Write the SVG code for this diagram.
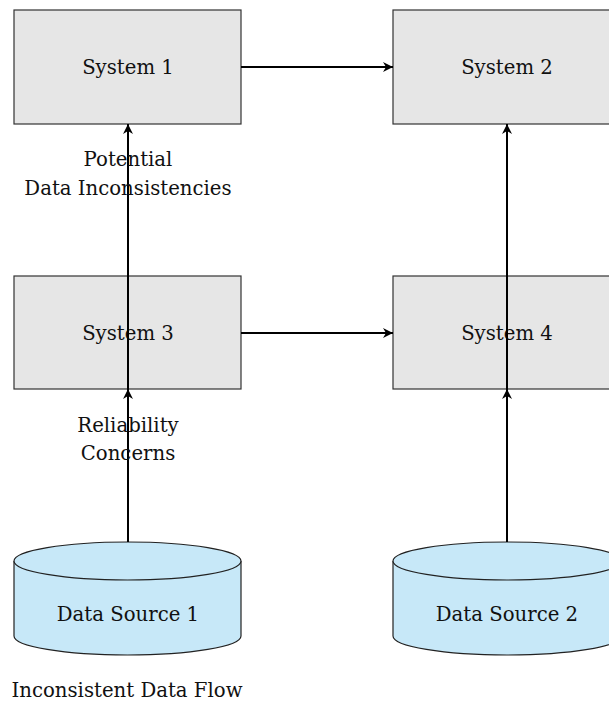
<svg xmlns="http://www.w3.org/2000/svg" width="609" height="702" viewBox="0 0 609 702">
<style>
.box{fill:#e6e6e6;stroke:#333333;stroke-width:1.2}
.cyl{fill:#c7e8f8;stroke:#222222;stroke-width:1.2}
.t{font-family:"DejaVu Serif","Liberation Serif",serif;font-size:19.7px;fill:#111111;text-anchor:middle}
.e{stroke:#000000;stroke-width:2;fill:none;marker-end:url(#ah)}
</style>
<defs>
<marker id="ah" viewBox="0 0 10 10" refX="10" refY="5" markerWidth="10" markerHeight="10" markerUnits="userSpaceOnUse" orient="auto">
<path d="M0,0 L10,5 L0,10 L3,5 z" fill="#000000"/>
</marker>
</defs>
<rect width="609" height="702" fill="#ffffff"/>
<g id="system1"><rect class="box" x="14" y="10" width="227" height="114"/><text class="t" x="128" y="74">System 1</text></g>
<g id="system2"><rect class="box" x="393" y="10" width="228" height="114"/><text class="t" x="507" y="74">System 2</text></g>
<g id="system3"><rect class="box" x="14" y="276" width="227" height="113"/><text class="t" x="128" y="340">System 3</text></g>
<g id="system4"><rect class="box" x="393" y="276" width="228" height="113"/><text class="t" x="507" y="340">System 4</text></g>
<g id="ds1"><path class="cyl" d="M14,561 A113.5,19 0 0 1 241,561 L241,636 A113.5,19 0 0 1 14,636 Z"/><path class="cyl" d="M14,561 A113.5,19 0 0 0 241,561" fill="none"/><text class="t" x="128" y="621">Data Source 1</text></g>
<g id="ds2"><path class="cyl" d="M393,561 A114,19 0 0 1 621,561 L621,636 A114,19 0 0 1 393,636 Z"/><path class="cyl" d="M393,561 A114,19 0 0 0 621,561" fill="none"/><text class="t" x="507" y="621">Data Source 2</text></g>
<g id="edges">
<line class="e" x1="241" y1="67" x2="393" y2="67"/>
<line class="e" x1="241" y1="333" x2="393" y2="333"/>
<line class="e" x1="128" y1="542" x2="128" y2="389"/>
<line class="e" x1="128" y1="389" x2="128" y2="124"/>
<line class="e" x1="507" y1="542" x2="507" y2="389"/>
<line class="e" x1="507" y1="389" x2="507" y2="124"/>
</g>
<g id="labels">
<text class="t" x="128" y="166">Potential</text>
<text class="t" x="128" y="195">Data Inconsistencies</text>
<text class="t" x="128" y="432">Reliability</text>
<text class="t" x="128" y="460">Concerns</text>
<text class="t" x="127" y="697">Inconsistent Data Flow</text>
</g>
</svg>
